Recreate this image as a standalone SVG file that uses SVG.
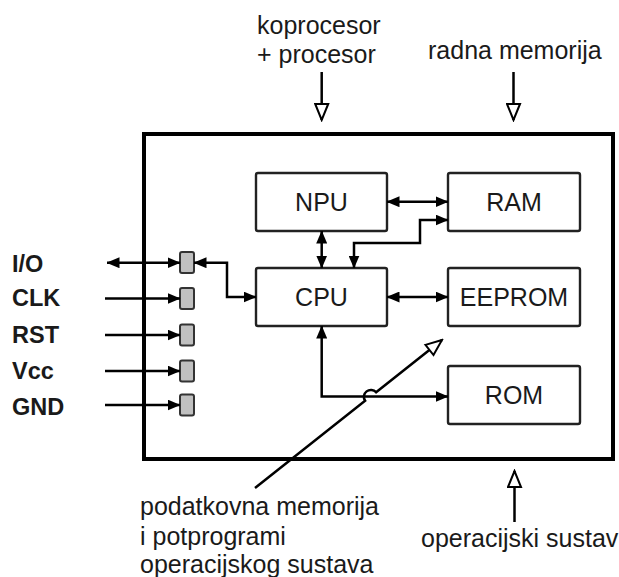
<svg xmlns="http://www.w3.org/2000/svg" width="619" height="577" viewBox="0 0 619 577">
<style>
text{font-family:"Liberation Sans",Arial,sans-serif;font-size:25px;fill:#1a1a1a}
.lbl{text-anchor:middle}
.pinlbl{font-weight:bold;font-size:23.5px}
.box{fill:#fff;stroke:#222;stroke-width:2.4}
.pin{fill:#c0c0c0;stroke:#333;stroke-width:2}
.c{fill:none;stroke:#000;stroke-width:2.5}
.ff{marker-end:url(#ah)}
.bb{marker-start:url(#ah);marker-end:url(#ah)}
.h{marker-end:url(#hh)}
</style>
<defs>
<marker id="ah" viewBox="0 0 13 11" refX="12.5" refY="5.5" markerWidth="13" markerHeight="11" orient="auto-start-reverse" markerUnits="userSpaceOnUse"><path d="M0,0 L13,5.5 L0,11 z" fill="#000"/></marker>
<marker id="hh" viewBox="0 0 20 16" refX="18" refY="8" markerWidth="20" markerHeight="16" orient="auto" markerUnits="userSpaceOnUse"><path d="M2,1.5 L18,8 L2,14.5 z" fill="#fff" stroke="#000" stroke-width="2"/></marker>
</defs>
<rect id="card" x="144" y="134" width="469" height="325" fill="#fff" stroke="#000" stroke-width="4"/>
<g id="npu"><rect class="box" x="256" y="173" width="131" height="58" rx="2"/><text class="lbl" x="321.5" y="211">NPU</text></g>
<g id="ram"><rect class="box" x="448" y="173" width="132" height="58" rx="2"/><text class="lbl" x="514" y="211">RAM</text></g>
<g id="cpu"><rect class="box" x="256" y="268" width="131" height="58" rx="2"/><text class="lbl" x="321.5" y="306">CPU</text></g>
<g id="eeprom"><rect class="box" x="448" y="268" width="132" height="58" rx="2"/><text class="lbl" x="514" y="306">EEPROM</text></g>
<g id="rom"><rect class="box" x="448" y="366" width="132" height="58" rx="2"/><text class="lbl" x="514" y="404">ROM</text></g>
<g id="pins">
<rect class="pin" x="180" y="252" width="14" height="21" rx="2"/>
<rect class="pin" x="180" y="288" width="14" height="21" rx="2"/>
<rect class="pin" x="180" y="324.5" width="14" height="21" rx="2"/>
<rect class="pin" x="180" y="360.5" width="14" height="21" rx="2"/>
<rect class="pin" x="180" y="394.5" width="14" height="21" rx="2"/>
</g>
<g id="connectors">
<path class="c bb" d="M107,262.7 H180"/>
<path class="c ff" d="M105,298.5 H180"/>
<path class="c ff" d="M105,335 H180"/>
<path class="c ff" d="M105,371 H180"/>
<path class="c ff" d="M105,405 H180"/>
<path class="c bb" d="M194,262.7 H227 V297 H256"/>
<path class="c bb" d="M321.7,231 V268"/>
<path class="c bb" d="M354,268 V243 H420 V220 H448"/>
<path class="c bb" d="M387,201.7 H448"/>
<path class="c bb" d="M387,297 H448"/>
<path class="c bb" d="M321.7,326 V396.5 H448"/>
<path class="c h" d="M255,488 L365.1,400.8 A7,7 0 0 1 376.1,392.2 L442,340"/>
<path class="c h" d="M321.7,72 V120"/>
<path class="c h" d="M513.5,72 V120"/>
<path class="c h" d="M514.5,522 V471"/>
</g>
<g id="labels">
<text class="pinlbl" x="12" y="272">I/O</text>
<text class="pinlbl" x="12" y="306">CLK</text>
<text class="pinlbl" x="12" y="343">RST</text>
<text class="pinlbl" x="12" y="379">Vcc</text>
<text class="pinlbl" x="12" y="415">GND</text>
<text x="257" y="34">koprocesor</text>
<text x="257" y="63">+ procesor</text>
<text x="428" y="59">radna memorija</text>
<text x="140" y="515">podatkovna memorija</text>
<text x="140" y="545">i potprogrami</text>
<text x="140" y="573">operacijskog sustava</text>
<text x="421" y="547">operacijski sustav</text>
</g>
</svg>
